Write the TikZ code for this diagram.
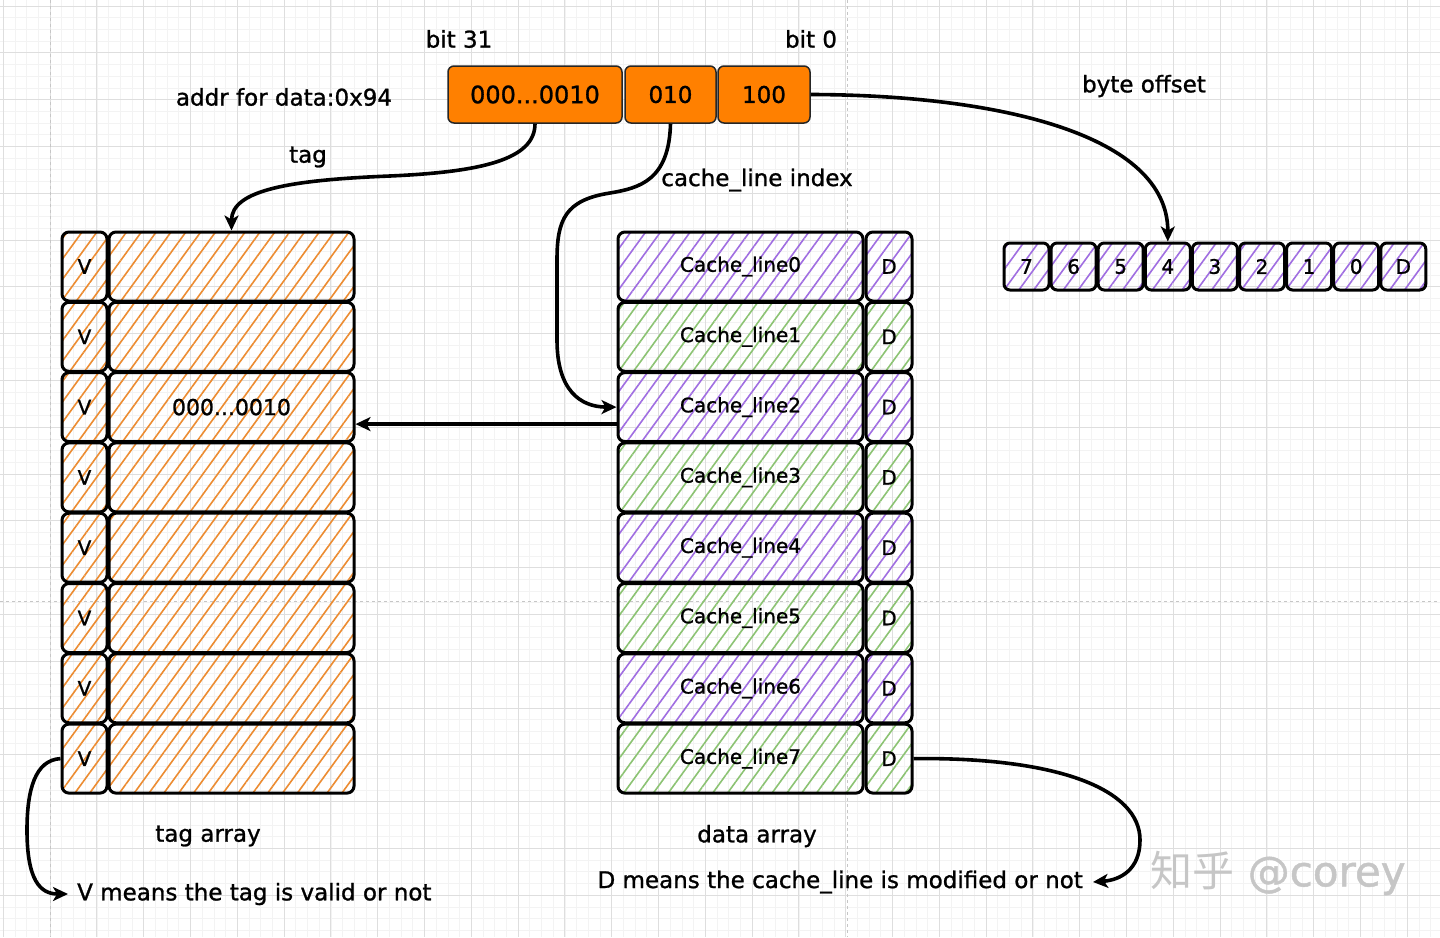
\documentclass[tikz,border=0pt]{standalone}
\usepackage{fontspec}
\setmainfont{DejaVu Sans}[FakeBold=1.1]
\newfontfamily\cjkfont{Noto Sans CJK SC}
\usetikzlibrary{patterns.meta,arrows.meta,calc}
\definecolor{addrorange}{RGB}{255,128,0}
\definecolor{hatchorange}{RGB}{236,140,50}
\definecolor{hatchpurple}{RGB}{160,110,225}
\definecolor{hatchgreen}{RGB}{140,195,115}
\definecolor{gridminor}{RGB}{243,243,243}
\definecolor{gridmajor}{RGB}{222,222,222}
\newcommand{\tagvalue}{000...0010}
\begin{document}
\begin{tikzpicture}[x=1pt,y=-1pt,
  every node/.style={font=\fontsize{23}{27}\selectfont},
  cellfont/.style={font=\fontsize{20}{24}\selectfont},
  lbl/.style={inner sep=0pt},
  addrbox/.style={draw=black!85, line width=1.5pt, fill=addrorange, rounded corners=6pt, minimum height=57pt, inner sep=0pt},
  cellbase/.style={draw=black, line width=3pt, rounded corners=7pt, minimum height=69pt, inner sep=0pt, cellfont},
  bytecell/.style={draw=black, line width=3pt, rounded corners=6pt, minimum height=47pt, minimum width=45pt, inner sep=0pt, cellfont},
  cellhatch/.style={pattern={Lines[angle=54,distance=12pt,line width=1.6pt]}, pattern color=#1},
  conn/.style={draw=black, line width=3.6pt, -{Stealth[length=15pt,width=14pt,inset=4pt]}},
  pagebreak/.style={draw=gray!45, line width=0.8pt, dash pattern=on 3pt off 3pt}
]
\useasboundingbox (0,0) rectangle (1440,937);
\fill[white] (0,0) rectangle (1440,937);
% grid
\foreach \i in {0,...,123} \draw[gridminor, line width=0.8pt] ({3.3+11.7*\i},0) -- ({3.3+11.7*\i},937);
\foreach \i in {0,...,80} \draw[gridminor, line width=0.8pt] (0,{6+11.7*\i}) -- (1440,{6+11.7*\i});
\foreach \i in {0,...,30} \draw[gridmajor, line width=0.9pt] ({3.3+46.8*\i},0) -- ({3.3+46.8*\i},937);
\foreach \i in {0,...,19} \draw[gridmajor, line width=0.9pt] (0,{6+46.8*\i}) -- (1440,{6+46.8*\i});
\draw[pagebreak] (50,0) -- (50,937);
\draw[pagebreak] (847,0) -- (847,937);
\draw[pagebreak] (0,601) -- (1440,601);

% address fields
\node[addrbox, minimum width=174pt, font=\fontsize{24}{28}\selectfont] (a1) at (535,94.5) {\tagvalue};
\node[addrbox, minimum width=91pt] (a2) at (670.5,94.5) {010};
\node[addrbox, minimum width=92pt] (a3) at (764,94.5) {100};

% labels
\node[lbl] (bit31) at (459,39) {bit 31};
\node[lbl] (bit0) at (811,39) {bit 0};
\node[lbl] (addrlbl) at (284,97) {addr for data:0x94};
\node[lbl] (taglbl) at (308,157) {tag};
\node[lbl] (idxlbl) at (757,180) {cache\_line index};
\node[lbl] (offlbl) at (1144,86) {byte offset};
\node[lbl] (tagarr) at (208,836) {tag array};
\node[lbl] (dataarr) at (757,836) {data array};
\node[lbl, inner xsep=9pt, anchor=west] (vnote) at (68,894) {V means the tag is valid or not};
\node[lbl, inner xsep=10pt, anchor=east] (dnote) at (1093,882) {D means the cache\_line is modified or not};

% tag array
\foreach \i/\txt in {0/,1/,2/\tagvalue,3/,4/,5/,6/,7/} {
  \node[cellbase, cellhatch=hatchorange, minimum width=45pt] (v\i) at (84.5,{266.5+70.3*\i}) {V};
  \node[cellbase, cellhatch=hatchorange, minimum width=245pt, font=\fontsize{22}{26}\selectfont] (t\i) at (231.5,{266.5+70.3*\i}) {\txt};
}

% data array
\foreach \i/\col in {0/hatchpurple,1/hatchgreen,2/hatchpurple,3/hatchgreen,4/hatchpurple,5/hatchgreen,6/hatchpurple,7/hatchgreen} {
  \node[cellbase, cellhatch=\col, minimum width=245pt] (c\i) at (740.5,{266.5+70.3*\i}) {Cache\_line\i};
  \node[cellbase, cellhatch=\col, minimum width=46pt] (d\i) at (889,{266.5+70.3*\i}) {D};
}

% bytes of a line
\foreach \i/\t in {0/7,1/6,2/5,3/4,4/3,5/2,6/1,7/0,8/D} {
  \node[bytecell, cellhatch=hatchpurple] (b\t) at ({1026.5+47.1*\i},266.5) {\t};
}

% watermark
\node[lbl, text=gray!45, font=\fontsize{42}{46}\selectfont] (wm) at (1278,873) {{\cjkfont 知乎} @corey};

% connectors
\draw[conn] (a1.south) .. controls (535,160) and (480,172) .. (390,176)
  .. controls (290,180) and (231.5,190) .. (t0.north);
\draw[conn] (a2.south) .. controls (669,180) and (640,188) .. (610,193)
  .. controls (565,200) and (557,220) .. (557,260) -- (557,340)
  .. controls (557,390) and (580,407) .. (c2.west);
\draw[conn] (a3.east) .. controls (1000,95) and (1168,135) .. (b4.north);
\draw[conn] ($(c2.west)+(0,17)$) -- ($(t2.east)+(0,17)$);
\draw[conn] (d7.east) .. controls (1060,757) and (1140,790) .. (1140,840)
  .. controls (1140,870) and (1120,880) .. (dnote.east);
\draw[conn] (v7.west) .. controls (35,760) and (27,790) .. (27,830)
  .. controls (27,880) and (40,894) .. (vnote.west);
\end{tikzpicture}
\end{document}
